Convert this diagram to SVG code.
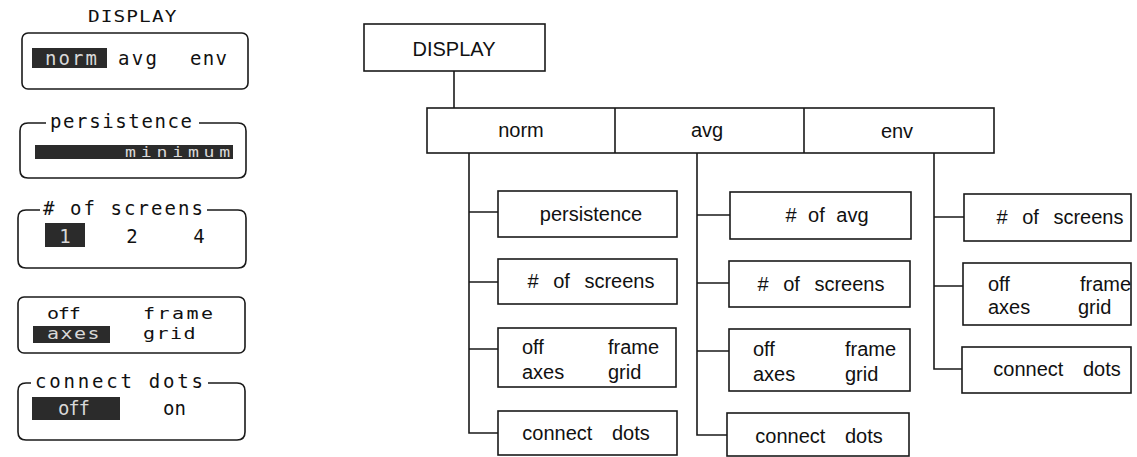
<svg xmlns="http://www.w3.org/2000/svg" width="1137" height="457" viewBox="0 0 1137 457">
<style>
.ln{fill:none;stroke:#1a1a1a;stroke-width:1.6}
.bx{fill:#fff;stroke:#1a1a1a;stroke-width:1.6}
.t{font-family:"Liberation Sans",Arial,sans-serif;font-size:20px;fill:#111}
.m{font-family:"DejaVu Sans Mono","Liberation Mono",monospace;font-size:19px;fill:#111}
.s{font-size:16px}
.inv{fill:#2b2b2b}
.iv{fill:#d8d8d8}
</style>
<rect width="1137" height="457" fill="#fff"/>
<!-- Left front panel -->
<g id="panel-left">
  <text class="m" transform="translate(88,22) scale(1.3,1)" style="font-size:15px" textLength="68" lengthAdjust="spacing">DISPLAY</text>
  <g id="mode-panel">
    <rect class="bx" x="22" y="33" width="226" height="56" rx="6"/>
    <rect class="inv" x="32" y="48" width="75" height="20"/>
    <text class="m iv" x="45" y="65" textLength="52" lengthAdjust="spacing">norm</text>
    <text class="m" x="118" y="65" textLength="39" lengthAdjust="spacing">avg</text>
    <text class="m" x="190" y="65" textLength="37" lengthAdjust="spacing">env</text>
  </g>
  <g id="persistence-panel">
    <path class="ln" d="M46,123 H28 Q20,123 20,131 V170 Q20,178 28,178 H238 Q246,178 246,170 V131 Q246,123 238,123 H199"/>
    <text class="m" x="50" y="128" textLength="142" lengthAdjust="spacing">persistence</text>
    <rect class="inv" x="35" y="145" width="198" height="14"/>
    <text class="m iv" transform="translate(125,157) scale(1.3,1)" style="font-size:14px" textLength="81" lengthAdjust="spacing">minimum</text>
  </g>
  <g id="screens-panel">
    <path class="ln" d="M40,210 H26 Q18,210 18,218 V260 Q18,268 26,268 H238 Q246,268 246,260 V218 Q246,210 238,210 H207"/>
    <text class="m" x="43" y="215" textLength="160" lengthAdjust="spacing"># of screens</text>
    <rect class="inv" x="45" y="223" width="40" height="24"/>
    <text class="m iv" x="65" y="243" text-anchor="middle">1</text>
    <text class="m" x="132" y="243" text-anchor="middle">2</text>
    <text class="m" x="199" y="243" text-anchor="middle">4</text>
  </g>
  <g id="axes-panel">
    <rect class="bx" x="18" y="297" width="227" height="56" rx="6"/>
    <text class="m s" transform="translate(47,319) scale(1.25,1)" textLength="27" lengthAdjust="spacing">off</text>
    <text class="m s" transform="translate(143,319) scale(1.25,1)" textLength="56" lengthAdjust="spacing">frame</text>
    <rect class="inv" x="33" y="326" width="77" height="17"/>
    <text class="m s iv" transform="translate(47,339) scale(1.25,1)" textLength="42" lengthAdjust="spacing">axes</text>
    <text class="m s" transform="translate(143,339) scale(1.25,1)" textLength="42" lengthAdjust="spacing">grid</text>
  </g>
  <g id="connect-panel">
    <path class="ln" d="M31,383 H26 Q18,383 18,391 V432 Q18,440 26,440 H237 Q245,440 245,432 V391 Q245,383 237,383 H208"/>
    <text class="m" x="35" y="388" textLength="168" lengthAdjust="spacing">connect dots</text>
    <rect class="inv" x="32" y="397" width="88" height="23"/>
    <text class="m iv" x="58" y="415" textLength="32" lengthAdjust="spacing">off</text>
    <text class="m" x="163" y="415" textLength="23" lengthAdjust="spacing">on</text>
  </g>
</g>
<!-- Connectors -->
<g id="connectors" class="ln">
  <path d="M454,71 V108"/>
  <path d="M469,153 V433 H498 M469,212 H498 M469,282 H498 M469,349 H498"/>
  <path d="M697,153 V435 H729 M697,215 H730 M697,283 H729 M697,351 H729"/>
  <path d="M934,153 V369 H962 M934,217 H964 M934,286 H963"/>
</g>
<!-- Tree nodes -->
<g id="display">
  <rect class="bx" x="364" y="24" width="181" height="47"/>
  <text class="t" x="454" y="56" text-anchor="middle">DISPLAY</text>
</g>
<g id="modes">
  <rect class="bx" x="427" y="108" width="567" height="45"/>
  <path class="ln" d="M615,108 V153 M804,108 V153"/>
  <text class="t" x="521" y="137" text-anchor="middle">norm</text>
  <text class="t" x="707" y="137" text-anchor="middle">avg</text>
  <text class="t" x="897" y="138" text-anchor="middle">env</text>
</g>
<g id="norm-persistence">
  <rect class="bx" x="498" y="191" width="179" height="46"/>
  <text class="t" x="591" y="221" text-anchor="middle">persistence</text>
</g>
<g id="norm-screens">
  <rect class="bx" x="498" y="259" width="179" height="45"/>
  <text class="t" x="591" y="288" text-anchor="middle" word-spacing="9"># of screens</text>
</g>
<g id="norm-axes">
  <rect class="bx" x="498" y="328" width="178" height="59"/>
  <text class="t" x="522" y="354">off</text>
  <text class="t" x="608" y="354">frame</text>
  <text class="t" x="522" y="379">axes</text>
  <text class="t" x="608" y="379">grid</text>
</g>
<g id="norm-connect">
  <rect class="bx" x="498" y="411" width="179" height="44"/>
  <text class="t" x="586" y="440" text-anchor="middle" word-spacing="14">connect dots</text>
</g>
<g id="avg-count">
  <rect class="bx" x="730" y="192" width="181" height="47"/>
  <text class="t" x="827" y="222" text-anchor="middle" word-spacing="6"># of avg</text>
</g>
<g id="avg-screens">
  <rect class="bx" x="729" y="261" width="181" height="46"/>
  <text class="t" x="821" y="291" text-anchor="middle" word-spacing="9"># of screens</text>
</g>
<g id="avg-axes">
  <rect class="bx" x="729" y="329" width="181" height="62"/>
  <text class="t" x="753" y="356">off</text>
  <text class="t" x="845" y="356">frame</text>
  <text class="t" x="753" y="381">axes</text>
  <text class="t" x="845" y="381">grid</text>
</g>
<g id="avg-connect">
  <rect class="bx" x="727" y="413" width="182" height="43"/>
  <text class="t" x="819" y="443" text-anchor="middle" word-spacing="14">connect dots</text>
</g>
<g id="env-screens">
  <rect class="bx" x="964" y="194" width="167" height="47"/>
  <text class="t" x="1060" y="224" text-anchor="middle" word-spacing="9"># of screens</text>
</g>
<g id="env-axes">
  <rect class="bx" x="963" y="263" width="168" height="62"/>
  <text class="t" x="988" y="291">off</text>
  <text class="t" x="1080" y="291">frame</text>
  <text class="t" x="988" y="314">axes</text>
  <text class="t" x="1078" y="314">grid</text>
</g>
<g id="env-connect">
  <rect class="bx" x="962" y="347" width="169" height="46"/>
  <text class="t" x="1057" y="376" text-anchor="middle" word-spacing="14">connect dots</text>
</g>
</svg>
